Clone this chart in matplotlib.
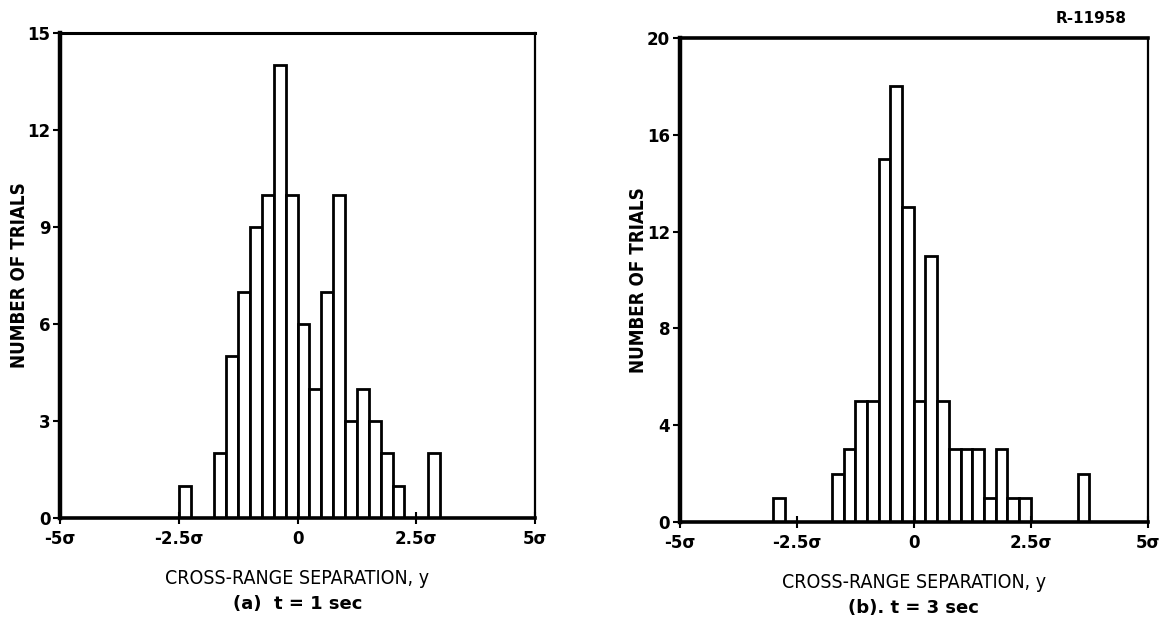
import numpy as np
import matplotlib
matplotlib.use('Agg')
import matplotlib.pyplot as plt

plt.rcParams['font.family'] = ['DejaVu Sans']

# Histogram (a) t = 1 sec : left bin edges (in sigma) and counts
bins_a = [-2.5, -1.75, -1.5, -1.25, -1.0, -0.75, -0.5, -0.25, 0.0, 0.25,
          0.5, 0.75, 1.0, 1.25, 1.5, 1.75, 2.0, 2.75]
counts_a = [1, 2, 5, 7, 9, 10, 14, 10, 6, 4, 7, 10, 3, 4, 3, 2, 1, 2]

# Histogram (b) t = 3 sec
bins_b = [-3.0, -1.75, -1.5, -1.25, -1.0, -0.75, -0.5, -0.25, 0.0, 0.25,
          0.5, 0.75, 1.0, 1.25, 1.5, 1.75, 2.0, 2.25, 3.5]
counts_b = [1, 2, 3, 5, 5, 15, 18, 13, 5, 11, 5, 3, 3, 3, 1, 3, 1, 1, 2]

bin_width = 0.25
xticks = [-5, -2.5, 0, 2.5, 5]
xticklabels = ['-5\u03c3', '-2.5\u03c3', '0', '2.5\u03c3', '5\u03c3']
yticks_a = [0, 3, 6, 9, 12, 15]
yticks_b = [0, 4, 8, 12, 16, 20]
xlabel = 'CROSS-RANGE SEPARATION, y'
captions = ['(a)  t = 1 sec', '(b). t = 3 sec']

fig = plt.figure(figsize=(11.68, 6.24), dpi=100)
ax_a = fig.add_axes([0.0514, 0.1699, 0.4067, 0.777])
ax_b = fig.add_axes([0.582, 0.1635, 0.4007, 0.7756])


def draw(ax, bins, counts, yticks, caption, top_lw, ylab_x):
    ax.bar(bins, counts, width=bin_width, align='edge', color='white',
           edgecolor='black', linewidth=2.0)
    ax.set_xlim(-5, 5)
    ax.set_ylim(0, yticks[-1])
    ax.set_xticks(xticks)
    ax.set_xticklabels(xticklabels, fontsize=12, fontweight='bold')
    ax.set_yticks(yticks)
    ax.set_yticklabels([str(v) for v in yticks], fontsize=12, fontweight='bold')
    ax.tick_params(axis='y', direction='out', length=5, width=1.5, pad=2)
    ax.tick_params(axis='x', direction='inout', length=8, width=1.5, pad=5)
    ax.spines['left'].set_linewidth(3.2)
    ax.spines['bottom'].set_linewidth(2.6)
    ax.spines['top'].set_linewidth(top_lw)
    ax.spines['right'].set_linewidth(1.6)
    ax.set_ylabel('NUMBER OF TRIALS', fontsize=13.5, fontweight='semibold',
                  fontstretch='condensed')
    ax.yaxis.set_label_coords(ylab_x, 0.5)
    ax.set_xlabel(xlabel, fontsize=14, fontstretch='condensed', labelpad=15)
    ax.text(0.5, -0.178, caption, transform=ax.transAxes, ha='center',
            va='center', fontsize=13, fontweight='semibold')


draw(ax_a, bins_a, counts_a, yticks_a, captions[0], 2.2, -0.066)
draw(ax_b, bins_b, counts_b, yticks_b, captions[1], 2.6, -0.068)

fig.text(0.965, 0.982, 'R-11958', ha='right', va='top', fontsize=11,
         fontweight='bold')

fig.savefig('out.png', dpi=100)
